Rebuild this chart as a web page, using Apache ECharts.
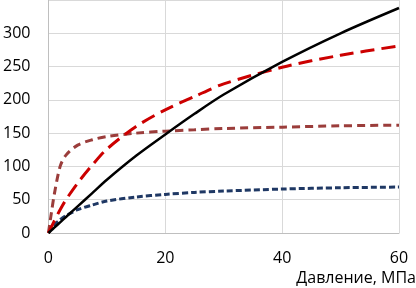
<!DOCTYPE html>
<html>
<head>
<meta charset="utf-8">
<script src="https://cdn.jsdelivr.net/npm/echarts@6/dist/echarts.min.js"></script>
<style>
  html, body { margin: 0; padding: 0; background: #fff; }
  #chart { width: 416px; height: 288px; }
</style>
</head>
<body>
<div id="chart"></div>
<script>
// pressure, MPa
const pressure = [0, 0.5, 1, 2, 3, 5, 7.5, 10, 15, 20, 25, 30, 40, 50, 60];

const blackSolid = [0, 4, 8, 16, 24, 40, 60, 80, 116, 148, 179, 208, 257, 300, 338];
const redDash = [0, 9, 18, 35, 50, 75, 102, 126, 160, 185, 205, 224, 249, 267, 281];
const brownDash = [0, 30, 58, 100, 117, 132, 140, 145, 150, 153, 155, 157, 159, 161, 162];
const navyDash = [0, 7, 12, 20, 26, 35, 42, 48, 54, 58, 61, 63, 66, 68, 69];

const yTicks = [0, 50, 100, 150, 200, 250, 300];
const xTicks = [0, 20, 40, 60];

const font = "Open Sans";

function pairs(ys) {
  return pressure.map((x, i) => [x, ys[i]]);
}

function line(ys, color, width, type) {
  return {
    type: "line",
    data: pairs(ys),
    smooth: 0.3,
    symbol: "none",
    lineStyle: { color: color, width: width, type: type, cap: "butt" },
  };
}

const chart = echarts.init(document.getElementById("chart"));

chart.setOption({
  animation: false,
  title: {
    text: "Давление, МПа",
    right: 0,
    top: 270,
    padding: 0,
    textStyle: { fontFamily: font, fontSize: 16, fontWeight: "normal", color: "#000" },
  },
  grid: { left: 45, right: 17, top: -6, bottom: 55, containLabel: false },
  xAxis: {
    type: "value",
    min: 0,
    max: 60,
    interval: 20,
    axisLine: { show: true, lineStyle: { color: "#bfbfbf" } },
    axisTick: { show: false },
    splitLine: { show: true, lineStyle: { color: "#d9d9d9" } },
    axisLabel: {
      fontFamily: font,
      fontSize: 16,
      color: "#000",
      margin: 17,
      formatter: (v) => (xTicks.includes(v) ? String(v) : ""),
    },
  },
  yAxis: {
    type: "value",
    min: 0,
    max: 350,
    interval: 50,
    axisLine: { show: true, lineStyle: { color: "#bfbfbf" } },
    axisTick: { show: false },
    splitLine: { show: true, lineStyle: { color: "#d9d9d9" } },
    axisLabel: {
      fontFamily: font,
      fontSize: 16,
      color: "#000",
      margin: 18,
      formatter: (v) => (yTicks.includes(v) ? String(v) : ""),
    },
  },
  series: [
    line(navyDash, "#1f3864", 3, [6, 3]),
    line(brownDash, "#9b3d3b", 3, [8, 5]),
    line(redDash, "#cc0000", 3, [14, 7]),
    line(blackSolid, "#000000", 2.5, "solid"),
  ],
});
</script>
</body>
</html>
